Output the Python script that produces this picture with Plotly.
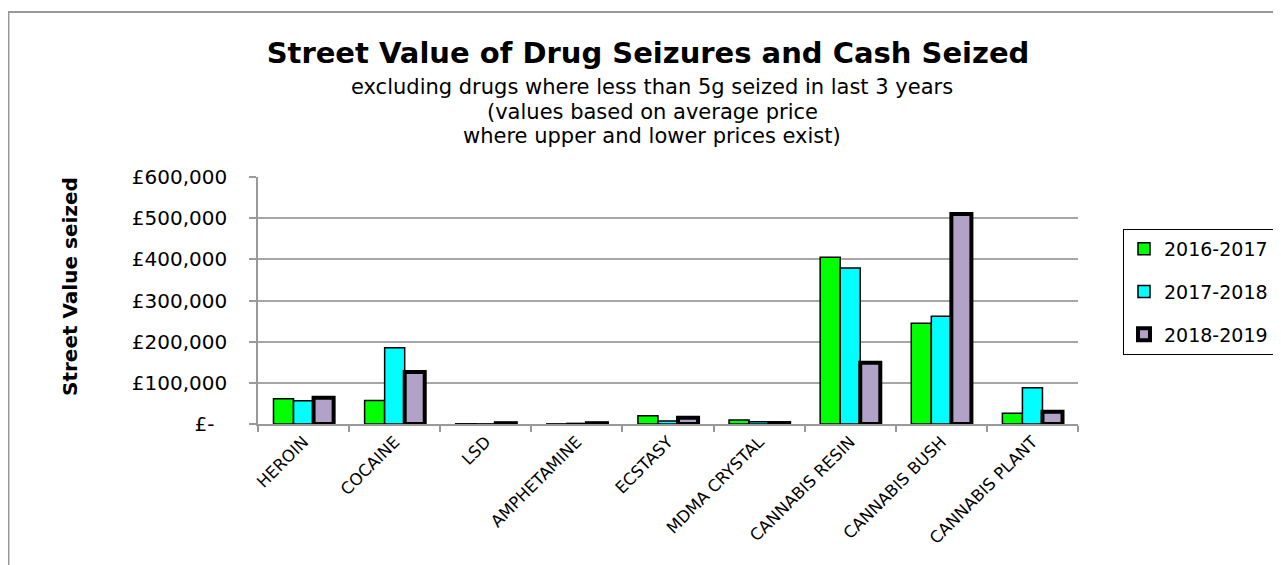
import plotly.graph_objects as go

categories = ["HEROIN", "COCAINE", "LSD", "AMPHETAMINE", "ECSTASY",
              "MDMA CRYSTAL", "CANNABIS RESIN", "CANNABIS BUSH", "CANNABIS PLANT"]
v_2016_2017 = [61500, 57000, 500, 300, 20000, 9500, 405000, 245000, 26000]
v_2017_2018 = [56700, 185000, 300, 1500, 7500, 5500, 379000, 262000, 88000]
v_2018_2019 = [64000, 126500, 2000, 2000, 15000, 2500, 149000, 510000, 30000]
series_names = ["2016-2017", "2017-2018", "2018-2019"]

y_tickvals = [0, 100000, 200000, 300000, 400000, 500000, 600000]
y_ticktext = ["£-\u00a0\u00a0", "£100,000", "£200,000", "£300,000", "£400,000", "£500,000", "£600,000"]

OFF = 8  # page body margin offset
W, H = 1281 - OFF, 565 - OFF
# plot area in page px
L, R, T, B = 258, 1078, 177, 424
pw, ph = R - L, B - T

def px_x(x):
    return (x - L) / pw

def px_y(y):
    return (B - y) / ph

FONT = "DejaVu Sans"

fig = go.Figure()
styles = [
    dict(color="#00FF00", lw=1.5),
    dict(color="#00FFFF", lw=1.5),
    dict(color="#B3A2C7", lw=4),
]
for name, vals, st in zip(series_names, [v_2016_2017, v_2017_2018, v_2018_2019], styles):
    fig.add_trace(go.Bar(
        x=categories, y=vals, name=name, legendgroup=name,
        marker=dict(color=st["color"], line=dict(color="black", width=st["lw"])),
    ))

fig.update_layout(
    width=W, height=H,
    margin=dict(l=L - OFF, r=W - (R - OFF), t=T - OFF, b=H - (B - OFF), autoexpand=False),
    paper_bgcolor="white", plot_bgcolor="white",
    barmode="group", bargap=0.34, bargroupgap=0,
    font=dict(family=FONT, color="black", size=20),
    title=dict(text="<b>Street Value of Drug Seizures and Cash Seized</b>",
               x=(648 - OFF) / W, xanchor="center", y=1 - (53 - OFF) / H, yanchor="middle",
               font=dict(family=FONT, size=29, color="black")),
    legend=dict(xref="container", yref="container",
                x=(1123 - OFF) / W, xanchor="left", y=1 - (229 - OFF) / H, yanchor="top",
                bordercolor="black", borderwidth=1, bgcolor="white",
                font=dict(family=FONT, size=19), itemwidth=30,
                tracegroupgap=15, traceorder="grouped"),
    showlegend=True,
)

fig.update_xaxes(
    type="category", tickangle=-45, tickfont=dict(size=16.5),
    showline=True, linecolor="#999999", linewidth=1.5,
    ticks="outside", tickson="boundaries", ticklen=6, tickcolor="#999999", tickwidth=1.5,
    showgrid=False, automargin=False,
)
fig.update_yaxes(
    range=[0, 600000], tickvals=y_tickvals, ticktext=y_ticktext,
    tickfont=dict(size=20),
    showline=True, linecolor="#999999", linewidth=1.5,
    ticks="outside", ticklen=7, tickcolor="#999999", tickwidth=1.5,
    ticklabelstandoff=18, automargin=False,
    showgrid=True, gridcolor="#A6A6A6", gridwidth=1.5, zeroline=False,
)

subs = [
    ("excluding drugs where less than 5g seized in last 3 years", 652, 87),
    ("(values based on average price", 652, 112),
    ("where upper and lower prices exist)", 652, 136),
]
for txt, cx, cy in subs:
    fig.add_annotation(text=txt, xref="paper", yref="paper", x=px_x(cx), y=px_y(cy),
                       xanchor="center", yanchor="middle", showarrow=False,
                       font=dict(family=FONT, size=21, color="black"))

fig.add_annotation(text="<b>Street Value seized</b>", xref="paper", yref="paper",
                   x=px_x(70), y=px_y(287), xanchor="center", yanchor="middle",
                   textangle=-90, showarrow=False,
                   font=dict(family=FONT, size=20, color="black"))

fig.add_shape(type="rect", xref="paper", yref="paper",
              x0=px_x(OFF + 0.5), x1=px_x(1340), y0=px_y(640), y1=px_y(12),
              line=dict(color="#999999", width=2), fillcolor="rgba(0,0,0,0)", layer="above")

fig.write_html("out.html")
